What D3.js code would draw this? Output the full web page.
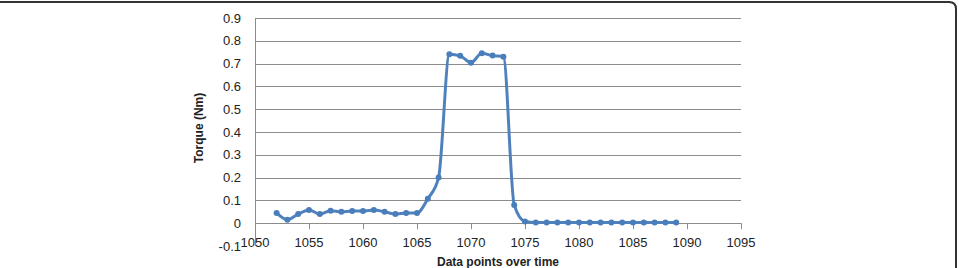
<!DOCTYPE html>
<html>
<head>
<meta charset="utf-8">
<script src="https://cdn.jsdelivr.net/npm/d3@7"></script>
<style>
  body { margin: 0; background: #fff; }
  svg { display: block; font-family: "Liberation Sans", Arial, sans-serif; }
</style>
</head>
<body>
<svg width="959" height="268"></svg>
<script>
// données
const points = [1052, 1053, 1054, 1055, 1056, 1057, 1058, 1059, 1060, 1061, 1062, 1063, 1064, 1065,
  1066, 1067, 1068, 1069, 1070, 1071, 1072, 1073, 1074, 1075, 1076, 1077, 1078, 1079, 1080,
  1081, 1082, 1083, 1084, 1085, 1086, 1087, 1088, 1089];
const torque = [0.045, 0.015, 0.04, 0.058, 0.04, 0.055, 0.05, 0.053, 0.053, 0.058, 0.05, 0.04, 0.045, 0.045,
  0.107, 0.2, 0.741, 0.734, 0.704, 0.745, 0.735, 0.73, 0.08, 0.008, 0.003, 0.003, 0.003, 0.003, 0.003,
  0.003, 0.003, 0.003, 0.003, 0.003, 0.003, 0.003, 0.003, 0.003];
const xTicks = [1050, 1055, 1060, 1065, 1070, 1075, 1080, 1085, 1090, 1095];
const yTicks = [-0.1, 0, 0.1, 0.2, 0.3, 0.4, 0.5, 0.6, 0.7, 0.8, 0.9];

const svg = d3.select('svg');
const mLeft = 255, mRight = 741, mTop = 18, mBottom = 246;

const x = d3.scaleLinear().domain([1050, 1095]).range([mLeft, mRight]);
const y = d3.scaleLinear().domain([-0.1, 0.9]).range([mBottom, mTop]);

// cadre
svg.append('path')
  .attr('d', 'M0,2 H949 Q956,2 956,9 V268')
  .attr('fill', 'none')
  .attr('stroke', '#333')
  .attr('stroke-width', 2);

// grille horizontale
svg.append('g').selectAll('line')
  .data(yTicks.filter(d => d > 0))
  .join('line')
  .attr('x1', mLeft).attr('x2', mRight)
  .attr('y1', d => Math.round(y(d)) + 0.5).attr('y2', d => Math.round(y(d)) + 0.5)
  .attr('stroke', '#8c8c8c').attr('stroke-width', 1);

// axe Y
svg.append('line')
  .attr('x1', mLeft + 0.5).attr('x2', mLeft + 0.5)
  .attr('y1', mTop).attr('y2', mBottom)
  .attr('stroke', '#8c8c8c');
svg.append('g').selectAll('text')
  .data(yTicks)
  .join('text')
  .attr('x', mLeft - 14).attr('y', d => y(d))
  .attr('dy', '0.35em')
  .attr('text-anchor', 'end')
  .attr('font-size', 13)
  .attr('fill', '#222')
  .text(d => d === 0 ? '0' : d3.format('.1f')(d).replace('−', '-'));

// axe X (croise à 0)
svg.append('line')
  .attr('x1', mLeft).attr('x2', mRight)
  .attr('y1', Math.round(y(0)) + 0.5).attr('y2', Math.round(y(0)) + 0.5)
  .attr('stroke', '#8c8c8c');
svg.append('g').selectAll('line')
  .data(xTicks)
  .join('line')
  .attr('x1', d => Math.round(x(d)) + 0.5).attr('x2', d => Math.round(x(d)) + 0.5)
  .attr('y1', y(0)).attr('y2', y(0) + 6)
  .attr('stroke', '#8c8c8c');
svg.append('g').selectAll('text')
  .data(xTicks)
  .join('text')
  .attr('x', d => x(d)).attr('y', mBottom - 4)
  .attr('dy', '0.35em')
  .attr('text-anchor', 'middle')
  .attr('font-size', 13)
  .attr('fill', '#222')
  .text(d => d);

// titres
svg.append('text')
  .attr('transform', 'translate(203,' + ((mTop + mBottom) / 2 - 4) + ') rotate(-90)')
  .attr('text-anchor', 'middle')
  .attr('font-size', 12)
  .attr('font-weight', 'bold')
  .attr('fill', '#222')
  .text('Torque (Nm)');
svg.append('text')
  .attr('x', 498).attr('y', 266)
  .attr('text-anchor', 'middle')
  .attr('font-size', 12)
  .attr('font-weight', 'bold')
  .attr('fill', '#222')
  .text('Data points over time');

// série (ligne lissée)
const data = points.map((p, i) => ({ p: p, v: torque[i] }));
const line = d3.line()
  .x(d => x(d.p))
  .y(d => y(d.v))
  .curve(d3.curveMonotoneX);

svg.append('path')
  .datum(data)
  .attr('d', line)
  .attr('fill', 'none')
  .attr('stroke', '#4f81bd')
  .attr('stroke-width', 3)
  .attr('stroke-linejoin', 'round');

svg.append('g').selectAll('circle')
  .data(data)
  .join('circle')
  .attr('cx', d => x(d.p))
  .attr('cy', d => y(d.v))
  .attr('r', 3)
  .attr('fill', '#4a7ebb');
</script>
</body>
</html>
